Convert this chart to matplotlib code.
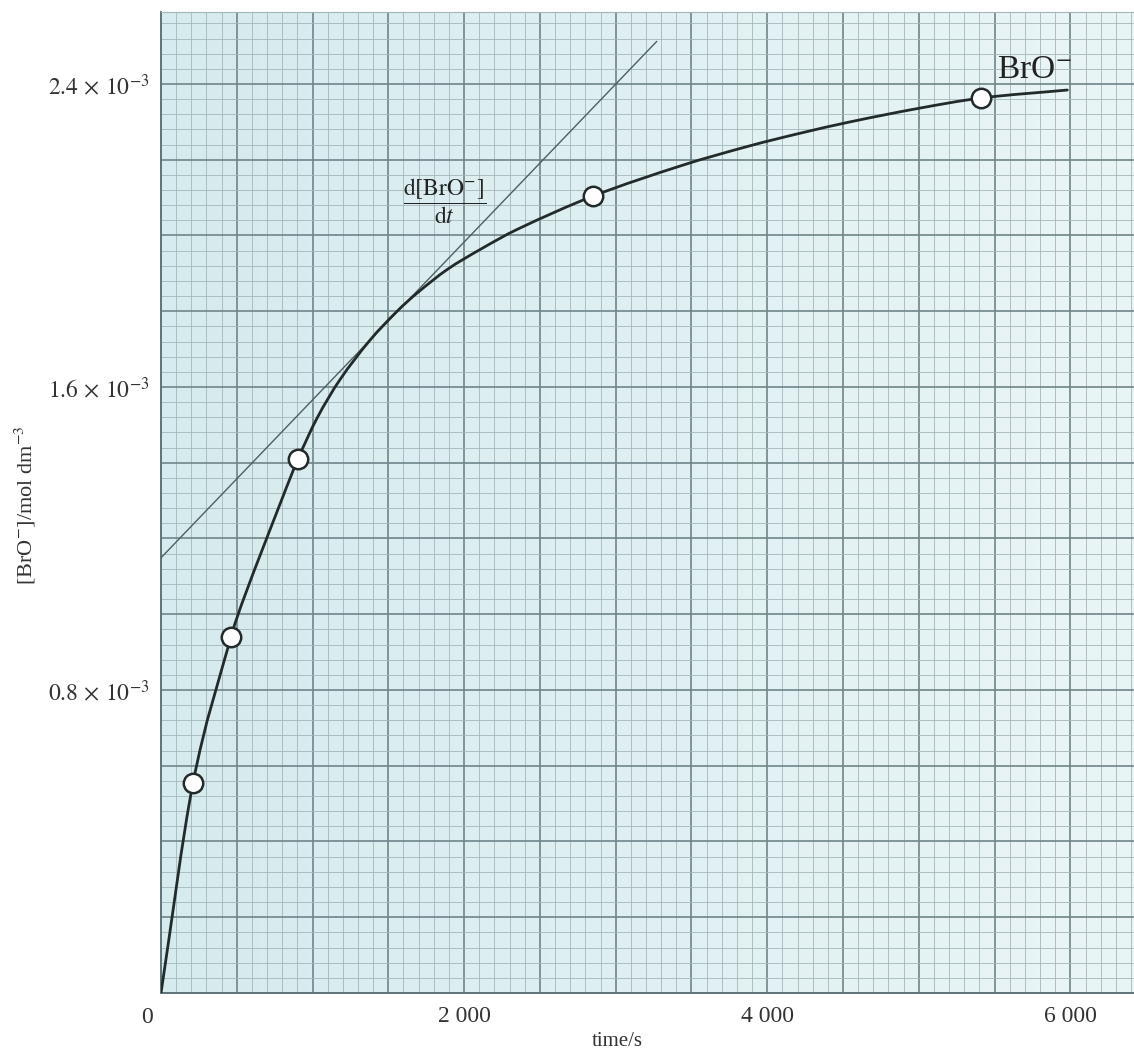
import numpy as np
import matplotlib
matplotlib.use("Agg")
import matplotlib.pyplot as plt
from matplotlib.ticker import MultipleLocator, FuncFormatter
from matplotlib.colors import LinearSegmentedColormap
from matplotlib.path import Path
from matplotlib.patches import PathPatch

plt.rcParams["font.family"] = ["Liberation Serif", "DejaVu Serif"]
plt.rcParams["mathtext.fontset"] = "stix"

# measured points (time in s, [BrO-] in units of 1e-3 mol dm-3)
time_pts = [211, 462, 904, 2851, 5413]
conc_pts = [0.554, 0.940, 1.410, 2.104, 2.363]

# smooth curve
curve_t = [0, 211, 462, 554, 799, 904, 1030, 1182, 1380, 1558, 1690, 1888,
           2106, 2350, 2851, 3446, 3888, 4218, 4548, 4990, 5413, 5980]
curve_c = [0.0, 0.554, 0.940, 1.050, 1.305, 1.410, 1.518, 1.620, 1.724, 1.800,
           1.848, 1.910, 1.963, 2.016, 2.104, 2.186, 2.237, 2.270, 2.300, 2.335,
           2.363, 2.384]

# tangent line
tangent_t = [0, 3270]
tangent_c = [1.149, 2.512]

x_labels = {2000: "2 000", 4000: "4 000", 6000: "6 000"}
y_labels = {0.8: r"$0.8\,\times\,10^{-3}$", 1.6: r"$1.6\,\times\,10^{-3}$",
            2.4: r"$2.4\,\times\,10^{-3}$"}

fig = plt.figure(figsize=(11.34, 10.51), dpi=100)
ax = fig.add_axes([161 / 1134, 1 - 993 / 1051, 1 - 161 / 1134, (993 - 12) / 1051])

# graph paper background
grad = np.linspace(0, 1, 256).reshape(1, -1)
paper = LinearSegmentedColormap.from_list("paper", ["#d6ebee", "#eaf5f6"])
ax.imshow(grad, cmap=paper, aspect="auto", extent=[0, 1, 0, 1],
          transform=ax.transAxes, zorder=0)

ax.set_xlim(0, 6420)
ax.set_ylim(0, 2.59)

ax.xaxis.set_major_locator(MultipleLocator(500))
ax.xaxis.set_minor_locator(MultipleLocator(100))
ax.yaxis.set_major_locator(MultipleLocator(0.2))
ax.yaxis.set_minor_locator(MultipleLocator(0.04))

def fmt_x(v, pos):
    return x_labels.get(int(round(v)), "")

def fmt_y(v, pos):
    for k, s in y_labels.items():
        if abs(v - k) < 1e-6:
            return s
    return ""

ax.xaxis.set_major_formatter(FuncFormatter(fmt_x))
ax.yaxis.set_major_formatter(FuncFormatter(fmt_y))

ax.grid(which="minor", color="#a3b7ba", linewidth=0.6, zorder=1)
ax.grid(which="major", color="#6f8589", linewidth=1.2, zorder=1)
ax.set_axisbelow(True)

ax.tick_params(which="both", length=0)
ax.tick_params(axis="x", pad=9, labelsize=17, labelcolor="#333333")
ax.tick_params(axis="y", pad=8, labelsize=17, labelcolor="#333333")

ax.spines["right"].set_visible(False)
ax.spines["top"].set_color("#a3b7ba")
ax.spines["top"].set_linewidth(0.8)
for side in ["left", "bottom"]:
    ax.spines[side].set_color("#5f7579")
    ax.spines[side].set_linewidth(1.4)

ax.annotate("0", xy=(0, 0), xytext=(-10, -10), textcoords="offset points",
            ha="center", va="top", fontsize=17, color="#333333",
            annotation_clip=False)

ax.plot(tangent_t, tangent_c, color="#4d5f60", linewidth=1.0, zorder=3)

# draw the curve as a smooth Bezier path through the read points
t = np.array(curve_t, dtype=float)
c = np.array(curve_c, dtype=float)
slope = np.empty_like(c)
slope[1:-1] = (c[2:] - c[:-2]) / (t[2:] - t[:-2])
slope[0] = (c[1] - c[0]) / (t[1] - t[0])
slope[-1] = (c[-1] - c[-2]) / (t[-1] - t[-2])
verts = [(t[0], c[0])]
codes = [Path.MOVETO]
for i in range(len(t) - 1):
    h = (t[i + 1] - t[i]) / 3
    verts += [(t[i] + h, c[i] + slope[i] * h),
              (t[i + 1] - h, c[i + 1] - slope[i + 1] * h),
              (t[i + 1], c[i + 1])]
    codes += [Path.CURVE4] * 3
ax.add_patch(PathPatch(Path(verts, codes), facecolor="none", edgecolor="#222a2a",
                       linewidth=2.0, zorder=4, capstyle="round"))

ax.plot(time_pts, conc_pts, "o", markersize=14, markerfacecolor="white",
        markeredgecolor="#222a2a", markeredgewidth=1.8, zorder=5)

ax.text(5518, 2.416, r"BrO$^{-}$", fontsize=24, color="#222222", zorder=6)
ax.text(1868, 2.091, r"$\dfrac{\mathrm{d[BrO^{-}]}}{\mathrm{d}t}$",
        fontsize=17, color="#222222", ha="center", va="center", zorder=6)

ax.set_xlabel("time/s", fontsize=15, color="#333333")
ax.xaxis.set_label_coords(0.469, -0.040)
ax.set_ylabel(r"[BrO$^{-}$]/mol dm$^{-3}$", fontsize=16, color="#333333")
ax.yaxis.set_label_coords(-0.126, 0.497)

fig.savefig("out.png", dpi=100)
